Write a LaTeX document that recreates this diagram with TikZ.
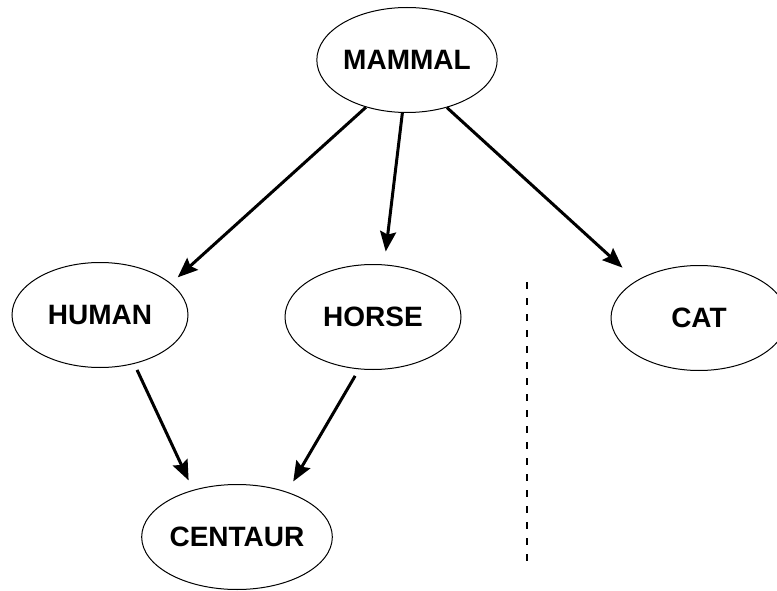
\documentclass[tikz,border=0pt]{standalone}
\usepackage{fontspec}
\setmainfont{Liberation Sans}
\usetikzlibrary{shapes.geometric,arrows.meta}
\tikzset{
  concept/.style={draw, ellipse, line width=1pt, minimum width=176pt, minimum height=105pt, inner sep=0pt,
    font=\fontsize{28}{30}\selectfont\bfseries},
  isa/.style={line width=3pt, -{Stealth[length=20pt,width=16pt,inset=3pt]}},
  divider/.style={line width=2pt, dash pattern=on 7pt off 9pt}
}
\begin{document}
\begin{tikzpicture}[x=1pt,y=-1pt]
\useasboundingbox (0,0) rectangle (777,591);
\node[concept] (mammal) at (407,60) {MAMMAL};
\node[concept] (human) at (100,315) {HUMAN};
\node[concept] (horse) at (373,317) {HORSE};
\node[concept] (cat) at (699,318) {CAT};
\node[concept] (centaur) at (237,537) {CENTAUR};
\draw[isa, shorten >=9pt] (mammal.229.7) -- (human.24.8);
\draw[isa, shorten >=13pt] (mammal.265.7) -- (horse.78.7);
\draw[isa, shorten >=19pt] (mammal.310.4) -- (cat.149.5);
\draw[isa, shorten <=6.7pt, shorten >=10.5pt] (human.305.5) -- (centaur.133);
\draw[isa, shorten <=7.6pt, shorten >=12pt] (horse.255.7) -- (centaur.42.4);
\coordinate (divtop) at (527,282);
\coordinate (divbot) at (527,563);
\draw[divider] (divtop) -- (divbot);
\end{tikzpicture}
\end{document}
